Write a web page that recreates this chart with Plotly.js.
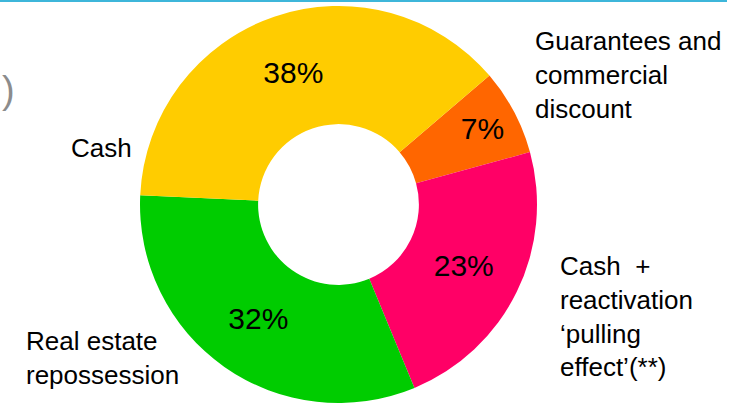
<!DOCTYPE html>
<html>
<head>
<meta charset="utf-8">
<script src="https://cdn.plot.ly/plotly-3.0.1.min.js"></script>
<style>html,body{margin:0;padding:0;background:#fff;}#chart{width:743px;height:406px;}</style>
</head>
<body>
<div id="chart"></div>
<script>
// Data (slice order starts at the orange slice, going clockwise)
const categories = ["Guarantees and commercial discount", "Cash + reactivation \u2018pulling effect\u2019(**)", "Real estate repossession", "Cash"];
const labelLines = [
  "Guarantees and<br>commercial<br>discount",
  "Cash  +<br>reactivation<br>\u2018pulling<br>effect\u2019(**)",
  "Real estate<br>repossession",
  "Cash"
];
const shares = [7, 23, 32, 38];
const sliceColors = ["#FF6600", "#FF0066", "#00CC00", "#FFCC00"];

const font = "Liberation Sans, Arial, sans-serif";

const trace = {
  type: "pie",
  labels: categories,
  values: shares,
  sort: false,
  direction: "clockwise",
  rotation: 49.5,
  hole: 0.405,
  textinfo: "percent",
  textposition: "inside",
  insidetextorientation: "horizontal",
  textfont: {family: font, size: 30, color: "#000"},
  marker: {colors: sliceColors, line: {width: 0}},
  domain: {x: [140/743, 537/743], y: [3/406, 400/406]},
  showlegend: false,
  hoverinfo: "none"
};

const labelPos = [
  {x: 533/743, y: 1 - 75/406},
  {x: 558/743, y: 1 - 316/406},
  {x: 24/743, y: 1 - 358/406},
  {x: 69/743, y: 1 - 148/406}
];

const annotations = labelLines.map((t, i) => ({
  text: t, xref: "paper", yref: "paper",
  x: labelPos[i].x, y: labelPos[i].y,
  xanchor: "left", yanchor: "middle", align: "left",
  showarrow: false,
  font: {family: font, size: 26, color: "#000"}
}));
annotations.push({
  text: ")", xref: "paper", yref: "paper", x: 0, y: 1 - 90/406,
  xanchor: "left", yanchor: "middle", showarrow: false,
  font: {family: font, size: 38, color: "#8c8c8c"}
});

const layout = {
  width: 743, height: 406,
  margin: {l: 0, r: 0, t: 0, b: 0},
  paper_bgcolor: "#fff",
  plot_bgcolor: "#fff",
  annotations: annotations,
  shapes: [{
    type: "line", xref: "paper", yref: "paper",
    x0: 0, x1: 727/743, y0: 1 - 1/406, y1: 1 - 1/406,
    line: {color: "#3DB6DA", width: 2}
  }]
};

Plotly.newPlot("chart", [trace], layout, {staticPlot: true, displayModeBar: false});
</script>
</body>
</html>
